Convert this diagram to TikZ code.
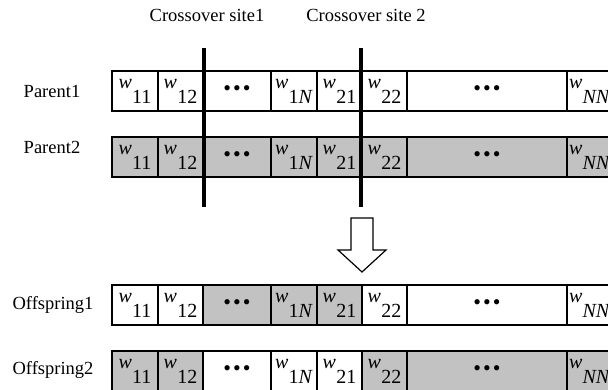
\documentclass[tikz,border=0pt]{standalone}
\usepackage{fontspec}
\setmainfont{Liberation Serif}
\definecolor{shade}{gray}{0.76}
\newcommand\wsub[1]{\textit{w}\kern0.3pt\raisebox{-15pt}{#1}}
\newcommand\dotsthree{{\fontsize{22}{22}\selectfont\textbullet\kern2pt\textbullet\kern2pt\textbullet}}
\tikzset{
  cellbox/.style={draw, line width=1.1pt, minimum height=40pt, anchor=north west,
    inner sep=0pt, outer sep=0pt, font=\fontsize{20}{20}\selectfont},
  celltext/.style={inner sep=0pt, outer sep=0pt, anchor=west, font=\fontsize{20}{20}\selectfont},
  rowlabel/.style={inner sep=0pt, font=\fontsize{18.5}{18.5}\selectfont},
  siteline/.style={line width=4.5pt},
  bigarrow/.style={draw, line width=1.2pt, fill=white, line join=miter}
}
% #1 prefix, #2 top y, #3 fill of cells 1-2, #4 fill of cells 3-5, #5 fill of cells 6-8
\newcommand\chromrow[5]{%
  \node[cellbox, fill=#3, minimum width=46pt] (#1c1) at (112,#2) {\wsub{11}};
  \node[cellbox, fill=#3, minimum width=45pt] (#1c2) at (158,#2) {\wsub{12}};
  \node[cellbox, fill=#4, minimum width=68pt] (#1c3) at (203,#2) {\dotsthree};
  \node[cellbox, fill=#4, minimum width=46pt] (#1c4) at (271,#2) {\wsub{1\textit{N}}};
  \node[cellbox, fill=#4, minimum width=45pt] (#1c5) at (317,#2) {\wsub{21}};
  \node[cellbox, fill=#5, minimum width=45pt] (#1c6) at (362,#2) {\wsub{22}};
  \node[cellbox, fill=#5, minimum width=160pt] (#1c7) at (407,#2) {\dotsthree};
  \node[cellbox, fill=#5, minimum width=70pt] (#1c8) at (567,#2) {};
  \node[celltext] (#1nn) at ([xshift=2pt]#1c8.west) {\wsub{\textit{NN}}};
}
\begin{document}
\begin{tikzpicture}[x=1pt, y=-1pt]
  \clip (0,0) rectangle (608,390);
  \fill[white] (0,0) rectangle (608,390);

  \chromrow{pa}{71}{white}{white}{white}
  \chromrow{pb}{137}{shade}{shade}{shade}
  \chromrow{oa}{285}{white}{shade}{white}
  \chromrow{ob}{351}{shade}{white}{shade}

  \node[rowlabel] (lpa) at (52,91) {Parent1};
  \node[rowlabel] (lpb) at (52,147) {Parent2};
  \node[rowlabel] (loa) at (53,305) {Offspring1};
  \node[rowlabel] (lob) at (53,370) {Offspring2};

  \node[rowlabel] (site1) at (207,15) {Crossover site1};
  \node[rowlabel] (site2) at (366,15) {Crossover site 2};

  \coordinate (s1top) at (204,48);
  \coordinate (s1bot) at (204,207);
  \coordinate (s2top) at (361,48);
  \coordinate (s2bot) at (361,207);
  \draw[siteline] (s1top) -- (s1bot);
  \draw[siteline] (s2top) -- (s2bot);

  \draw[bigarrow] (351,218) -- (373,218) -- (373,250) -- (386,250) -- (362,272)
    -- (338,250) -- (351,250) -- cycle;
\end{tikzpicture}
\end{document}
